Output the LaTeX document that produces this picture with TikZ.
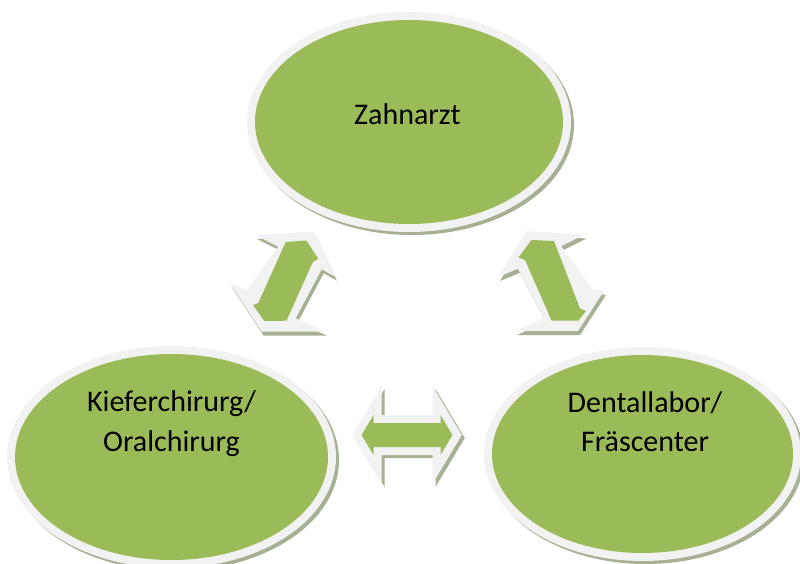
\documentclass[tikz,border=0pt]{standalone}
\usepackage{fontspec}
\setmainfont{Carlito}
\usetikzlibrary{shapes.geometric}

\definecolor{zgreen}{RGB}{155,187,89}
\definecolor{rimgray}{RGB}{242,242,242}
\definecolor{shadowgray}{RGB}{166,176,146}

\tikzset{
	rimshadow/.style={preaction={fill=shadowgray, draw=shadowgray, line width=16pt, line join=miter, transform canvas={shift={(3pt,-3pt)}}},
		preaction={draw=rimgray, line width=16pt, line join=miter}},
	bubble/.style={ellipse, fill=zgreen, inner sep=0pt, rimshadow},
	bubbletext/.style={font=\fontsize{30}{39.5}\selectfont, align=center, anchor=base, inner sep=0pt},
	blockarrow/.style={fill=zgreen, rimshadow},
	arrowrim/.style={fill=rimgray, preaction={fill=shadowgray, transform canvas={shift={(2pt,-4pt)}}}},
	arrowbody/.style={fill=zgreen}
}

\begin{document}
\begin{tikzpicture}[x=1pt,y=-1pt]
		\useasboundingbox (0,0) rectangle (800,564);
		% bubbles
		\node [bubble, minimum width=308pt, minimum height=204pt] (zahn) at (409,122) {};
		\node [bubble, minimum width=313pt, minimum height=206pt] (kiefer) at (171.5,457) {};
		\node [bubble, minimum width=301pt, minimum height=198pt] (labor) at (642.5,454) {};
		\node [bubbletext] (zahnlabel) at (407.5,125) {Zahnarzt};
		\node [bubbletext] (kieferlabel) at (171.5,451) {Kieferchirurg/\\Oralchirurg};
		\node [bubbletext] (laborlabel) at (645,451.5) {Dentallabor/\\Fräscenter};
		% Zahnarzt <-> Kieferchirurg
		\fill [arrowrim] (255,235) -- (313.3,231.7) -- (335,276.7) -- (321.7,269.3) -- (295.7,318.3) -- (325,331.7) -- (261.7,331.7) -- (230,283.3) -- (246.7,290) -- (278.3,246.7) -- cycle;
		\fill [arrowbody] (285.7,242) -- (306.3,240.5) -- (318.3,258.7) -- (312.7,262.3) -- (286.5,320.7) -- (264.3,321) -- (253,305) -- (258.3,303) -- cycle;
		% Zahnarzt <-> Dentallabor
		\fill [arrowrim] (584.6,234.5) -- (526.3,231.2) -- (498,277) -- (517.9,268.8) -- (543.9,317.8) -- (514.6,331.2) -- (577.9,331.2) -- (604,291) -- (592.9,289.5) -- (561.3,246.2) -- cycle;
		\fill [arrowbody] (554,241) -- (531.5,240) -- (518.5,257.5) -- (525,260) -- (551.5,320.5) -- (578.5,320.5) -- (586,311) -- (580,308.5) -- cycle;
		% Kieferchirurg <-> Dentallabor
		\coordinate (kl) at (407,435);
		\begin{scope}[shift={(kl)}]
			\path [blockarrow] (-45.5,0) -- (-33.5,-20) -- (-33.5,-12) -- (33.5,-12) -- (33.5,-20) -- (45.5,0) -- (33.5,20) -- (33.5,12) -- (-33.5,12) -- (-33.5,20) -- cycle;
		\end{scope}
	\end{tikzpicture}
\end{document}
